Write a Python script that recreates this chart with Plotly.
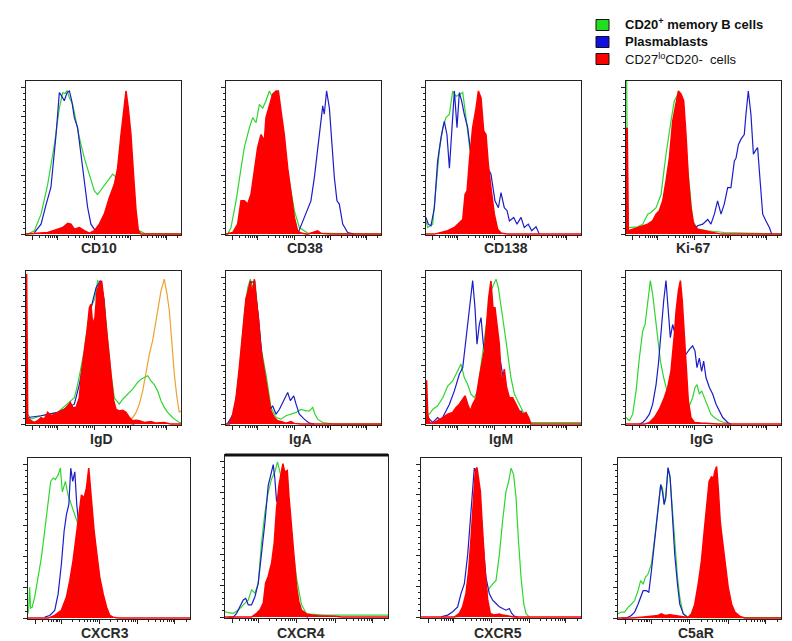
import plotly.graph_objects as go

# ---------------- tick values (display position, % of axis width) -------------
x_major_ticks = [4.5, 20.5, 44, 67.5, 90.5]
x_minor_ticks = [9, 12.5, 14.5, 16, 17.3, 18.4, 19.5,
                 27.6, 31.7, 34.6, 36.9, 38.8, 40.4, 41.7, 42.9,
                 51.1, 55.2, 58.1, 60.4, 62.3, 63.9, 65.2, 66.4,
                 74.6, 78.7, 81.6, 83.9, 85.8, 87.4, 88.7, 89.9, 97.6]
y_major_ticks = [0, 20, 40, 60, 80, 100]
y_minor_ticks = [4, 8, 12, 16, 24, 28, 32, 36, 44, 48, 52, 56,
                 64, 68, 72, 76, 84, 88, 92, 96]

markers = ["CD10", "CD38", "CD138", "Ki-67",
           "IgD", "IgA", "IgM", "IgG",
           "CXCR3", "CXCR4", "CXCR5", "C5aR"]

legend_labels = ["CD20<sup>+</sup> memory B cells", "Plasmablasts",
                 "CD27<sup>lo</sup>CD20-  cells"]

# ---------------- histogram data (x: display %, y: % of mode) -----------------
cd10_green_x = [0, 1.1, 5.4, 9.7, 14, 18.3, 21.5, 23.7, 25.2, 26.5, 28, 30.1, 32.3, 34.4, 37.6, 40.9, 44.1, 46.2, 49.5, 52.7, 55.9, 59.1, 63.4, 67.7, 72, 76.3, 100]
cd10_green_y = [0, 0, 2.3, 13.6, 34, 61, 86, 96.6, 96, 98, 93, 88.6, 77, 66, 52, 41, 29.5, 27, 32, 36, 41, 38, 30, 20, 3, 0.5, 0]
cd10_blue_x = [5.4, 9.7, 12.9, 16.1, 19.4, 21.5, 22.6, 24.7, 26.5, 28, 29.5, 31.2, 33.3, 35.5, 37.6, 39.8, 41.9, 44.5, 46.2]
cd10_blue_y = [1.1, 6.8, 20, 32, 68, 96.6, 95, 91, 96.6, 97.7, 91, 79.5, 72.7, 54.5, 36, 18, 6.8, 2.3, 0]
cd10_red_x = [0, 14, 20.4, 23.7, 26.9, 29, 31.2, 34.4, 37.6, 40.9, 44.1, 47.3, 50.5, 53.8, 57, 59.1, 61.3, 63, 64.5, 66, 67.7, 69.5, 71, 72.5, 74.2, 100]
cd10_red_y = [0, 1.1, 3.4, 4.5, 7.3, 6.8, 3.4, 4.5, 2.3, 0.7, 2.3, 6.8, 13.6, 25, 34, 45, 68, 86, 97.7, 86, 68, 38.6, 16, 2.3, 0, 0]

cd38_green_x = [0, 1.1, 3.2, 6.5, 9.7, 11.8, 15.1, 17.2, 19.4, 21.5, 23.7, 25.8, 28, 30.1, 33.3, 37.6, 41.9, 44.1, 47.3, 50.5, 52.7, 100]
cd38_green_y = [0, 0, 4.5, 22.7, 45, 59, 72.7, 79.5, 76, 88.6, 86, 91, 97.7, 93, 79.5, 57, 29.5, 16, 4.5, 2.3, 0.7, 0]
cd38_blue_x = [46.2, 48.4, 51.6, 54.8, 57, 59.1, 60.9, 62.4, 63.4, 64.9, 66.7, 68.2, 69.9, 71.6, 73.1, 75.3, 78.5, 82.8]
cd38_blue_y = [0, 5.7, 13.6, 22.7, 38.6, 59, 77, 87.5, 81.8, 97.7, 86, 63.6, 38.6, 22.7, 20.5, 6.8, 1.1, 0]
cd38_red_x = [0, 4.3, 7.5, 9.7, 11.8, 14, 16.1, 18.3, 20.4, 22.6, 24.7, 25.8, 28, 30.1, 32.3, 33.8, 35.5, 37.6, 39.8, 41.9, 44.1, 46.2, 48.4, 52.7, 57, 59.1, 61.3, 67.7, 100]
cd38_red_y = [0, 1.1, 6.8, 22.7, 22.7, 20.5, 27, 45, 59, 68, 63.6, 79.5, 88.6, 95.5, 97.7, 97.7, 84, 68, 45, 27, 11.4, 2.3, 0.7, 0, 1.8, 2.3, 0.5, 0, 0]

cd138_green_x = [0, 1.1, 4.3, 6.5, 8.6, 10.8, 12.9, 15.1, 17.2, 19.4, 21.5, 23.7, 25.8, 28, 29, 31.2, 35.5, 39.8, 44.1, 48.4]
cd138_green_y = [9, 4.5, 6.8, 34, 57, 72.7, 79.5, 81.8, 97.7, 94, 95.5, 96.6, 79.5, 61, 52, 45, 34, 18, 4.5, 0]
cd138_blue_x = [0, 1.5, 3.2, 5.4, 7.5, 9.7, 11.8, 13.5, 15.1, 16.6, 18.3, 20, 21.5, 23, 24.7, 26.9, 29, 31.2, 39.8, 41.9, 44.5, 46.7, 48.4, 50.5, 52.3, 53.8, 56.6, 58.7, 61.3, 63.4, 66, 68.2, 71, 73.1]
cd138_blue_y = [11.4, 6.8, 5.7, 18, 50, 66, 77, 68, 45, 68, 97.7, 72.7, 96.6, 91, 81.8, 72.7, 54.5, 50, 45, 41, 22.7, 18, 28.4, 18, 16, 9, 11.4, 6.8, 11.4, 4.5, 6.8, 2.3, 5, 0]
cd138_red_x = [0, 5.4, 9.7, 14, 18.3, 21.5, 23.7, 25.2, 26.5, 28, 30.1, 32.3, 33.8, 35.5, 37.2, 38.7, 40.2, 41.9, 44.1, 46.2, 48.4, 52.7, 61.3, 100]
cd138_red_y = [0, 0, 1.1, 2.3, 4.5, 8, 10, 27, 29.5, 50, 72.7, 86, 97.7, 93, 70.5, 68, 47.7, 31.8, 13.6, 3.4, 0.7, 0, 0, 0]

ki67_green_x = [0, 0.4, 1.1, 3.2, 7.5, 10.8, 14, 16.1, 19.4, 22.6, 25.8, 29, 31.2, 33.3, 36.6, 39.8, 43, 46.2, 52.7, 63.4, 74.2, 89.2, 100]
ki67_green_y = [110, 110, 4.5, 4.5, 5, 6.8, 13.6, 14.8, 18, 27, 54.5, 77, 91, 95, 90, 45, 9, 3.4, 2.3, 1.1, 0.7, 0, 0]
ki67_blue_x = [43, 46.2, 49.5, 52.7, 54.8, 57, 59.1, 61.3, 63.4, 65.6, 67.7, 69.9, 71, 72.5, 74.2, 76.3, 77.4, 78.9, 80.6, 82.2, 83.4, 84.9, 86.7, 88.2, 90.3, 92.5, 94]
ki67_blue_y = [2.3, 5.7, 6.8, 10, 6.8, 13.6, 22.7, 13.6, 20.5, 31.8, 31.8, 50, 52, 61, 64.8, 68, 81.8, 97.7, 81.8, 54.5, 56.8, 59, 34, 13.6, 9, 4.5, 0]
ki67_red_x = [0, 0.8, 1.5, 4.3, 7.5, 10.8, 14, 17.2, 19.4, 21.5, 23.7, 25.8, 28, 30.1, 32.3, 33.8, 35.5, 37.2, 38.7, 40.2, 41.9, 43.7, 46.2, 50.5, 54.8, 59.1, 61.3, 100]
ki67_red_y = [72, 72, 2.3, 3.4, 4.5, 5.7, 6.8, 9, 13.6, 16, 22.7, 36, 52, 77, 91, 97.7, 95.5, 91, 68, 38.6, 18, 6.8, 3.4, 2.3, 1.1, 0.5, 0, 0]

igd_orange_x = [0, 1.1, 3.2, 9.7, 31.2, 61.3, 66.7, 68.8, 71, 73.1, 75.3, 77.4, 79.6, 81.7, 83.2, 84.9, 87.1, 89.2, 91, 92.5, 94, 95.7, 97.4, 98.9, 100]
igd_orange_y = [4, 2.3, 1.1, 0.5, 0.5, 0.5, 2.3, 4.5, 8, 13.6, 22.7, 36, 47.7, 57, 66, 77, 91, 98.9, 88.6, 77, 54.5, 34, 18, 8, 9]
igd_green_x = [0, 1.1, 3.2, 9.7, 20.4, 29, 31.2, 33.3, 35.5, 37.6, 39.8, 41.9, 44.5, 46.2, 48.4, 50.5, 52.7, 54.8, 57, 60.2, 62.4, 65.6, 68.8, 72, 74.2, 76.3, 78.5, 80.6, 82.8, 84.9, 87.1, 89.2, 91.4, 93.5, 95.7, 98.9, 100]
igd_green_y = [8, 6.8, 3.4, 5.7, 8, 15.9, 18, 27, 38.6, 50, 68, 79.5, 86, 97.7, 96.6, 84, 57, 34, 18, 13.6, 17, 20.5, 23.9, 28.4, 30.7, 31.8, 33, 29.5, 27, 22.7, 16, 11.4, 8, 5.7, 3.4, 1.1, 1]
igd_blue_x = [1.1, 9.7, 20.4, 31.2, 34.4, 36.6, 38.7, 40.9, 43, 45.2, 48, 50.1, 52.3, 54.4, 56.6, 59.1, 63.4, 69.9]
igd_blue_y = [4.5, 5.7, 8, 13.6, 27, 41, 52, 75, 84, 93, 98, 86, 57, 32, 13.6, 4.5, 1.1, 0]
igd_red_x = [0, 0.4, 1.1, 3.2, 5.4, 7.5, 9.7, 11.8, 14, 16.1, 18.3, 20.4, 22.6, 24.7, 26.9, 28.6, 30.1, 32.3, 34.4, 35.9, 37.6, 39.4, 40.9, 41.9, 43, 44.5, 45.8, 47.3, 48.8, 50.1, 51.6, 53.3, 54.8, 56.6, 58.1, 60.2, 62.4, 64.5, 66.7, 68.8, 71, 73.1, 76.3, 80.6, 83.9, 89.2, 93.5, 100]
igd_red_y = [102, 102, 4.5, 2.3, 1.1, 2.3, 4.5, 3.4, 8, 5.7, 6.8, 8, 9, 10, 12.5, 14.8, 11.4, 11.4, 18, 36, 50, 63.6, 79.5, 81.8, 68, 72.7, 91, 95.5, 97.7, 86, 68, 50, 34, 16, 10, 9, 9.5, 8, 4.5, 2.3, 2.7, 2.3, 1.1, 1.8, 0.7, 1.1, 0, 0]

iga_green_x = [0, 1.1, 3.2, 5.4, 7.5, 9.7, 11.8, 14, 15.7, 17.2, 18.7, 20.4, 22.6, 25.8, 29, 32.3, 35.5, 38.7, 41.9, 45.2, 48.4, 51.6, 53.8, 55.9, 57.4, 59.1, 62.4, 66.7, 69.9, 100]
iga_green_y = [0, 0.5, 2.3, 9, 22.7, 47.7, 75, 93, 98.9, 93, 98, 77, 52, 34, 11.4, 4.5, 3.4, 5.7, 6.8, 8, 10, 9, 9, 11.4, 6.8, 3.4, 1.1, 0.7, 0, 0]
iga_blue_x = [1.1, 5.4, 9.7, 12.9, 15.7, 18.3, 20.9, 23.7, 26.5, 28, 30.1, 32.3, 34.4, 37.2, 39.8, 41.5, 43.7, 45.2, 47.3, 50.5, 53.8, 57]
iga_blue_y = [0.5, 8, 45, 84, 96.6, 97.3, 72.7, 40.9, 18, 9, 12.5, 6.8, 10, 16, 21.6, 16, 19.3, 13.6, 6.8, 3.4, 0.7, 0]
iga_red_x = [0, 2.2, 4.3, 6.5, 8.6, 10.8, 12.9, 14.4, 15.7, 16.8, 18.3, 19.6, 20.9, 22.6, 24.3, 25.8, 27.3, 29, 31.2, 33.3, 35.5, 38.7, 41.9, 44.1, 48.4, 100]
iga_red_y = [0, 0, 6.8, 18, 38.6, 61, 86, 91, 97.7, 88.6, 98.9, 84, 72.7, 50, 38.6, 31.8, 20.5, 9, 4.5, 2.3, 1.8, 0.7, 1.8, 0.5, 0, 0]

igm_green_x = [0, 2.2, 4.3, 7.5, 10.8, 14, 17.2, 20.4, 22.6, 24.7, 26.9, 29, 31.2, 33.3, 35.5, 37.6, 39.8, 41.9, 43.7, 45.2, 46.7, 48.4, 50.1, 51.6, 52.7, 54.8, 57, 59.1, 61.3, 63.4, 65.6, 67.7, 74.2, 100]
igm_green_y = [6.8, 6.8, 10, 12.5, 18, 26, 29.5, 36, 41, 31.8, 27, 20.5, 18, 22.7, 38.6, 57, 75, 91, 95.5, 98.9, 93, 81.8, 68, 57, 47.7, 31.8, 20.5, 15.9, 11.4, 6.8, 3.4, 1.1, 1.1, 1.1]
igm_blue_x = [1.1, 4.3, 7.5, 9.7, 11.8, 15.1, 18.3, 21.5, 23.7, 25.8, 28, 30.1, 31.6, 32.9, 34.4, 35.5, 37, 38.7, 40.9, 43, 46.2, 50.5, 54.8, 59.1, 61.3, 63.4, 65.6, 67.7]
igm_blue_y = [4.5, 1.1, 4.5, 2.3, 6.8, 13.6, 22.7, 34, 38.6, 57, 79.5, 98, 79.5, 54.5, 68, 72.7, 54.5, 45, 57, 68, 54.5, 27, 13.6, 6.8, 9, 4.5, 1.1, 0]
igm_red_x = [0, 0.4, 1.1, 2.2, 4.3, 7.5, 10.8, 14, 17.2, 19.4, 21.5, 23.7, 25.2, 26.9, 28.6, 30.1, 32.3, 34.4, 35.9, 37.6, 39.1, 40.4, 41.9, 43.2, 44.5, 45.8, 47.3, 48.8, 50.5, 52, 53.8, 55.9, 58.1, 60.2, 62.4, 64.5, 66.2, 67.7, 100]
igm_red_y = [29.5, 29.5, 6.8, 1.1, 0.5, 2.3, 4.5, 6.8, 8, 11.4, 13.6, 17, 19.3, 13.6, 9, 13.6, 18, 31.8, 41, 50, 68, 86, 97.7, 79.5, 79.5, 68, 54.5, 27, 37.5, 25, 18, 18, 13.6, 9, 6.8, 8, 4.5, 0, 0]

igg_green_x = [0, 2.2, 4.3, 6.5, 8.6, 10.8, 12.3, 14, 15.7, 17.2, 18.7, 20.4, 22.2, 24.3, 26.5, 28.6, 31.2, 34.4, 37.6, 40.9, 43, 44.5, 45.8, 47.3, 48.8, 50.5, 52.7, 54.8, 57, 60.2, 63.4, 67.7]
igg_green_y = [4.5, 2.3, 6.8, 22.7, 45, 63.6, 68, 84, 98, 88.6, 75, 61, 43, 31.8, 22.7, 13.6, 9, 6.8, 6.8, 12.5, 18, 25, 27, 20.5, 22.7, 18, 11.4, 6.8, 4.5, 2.3, 1.1, 0]
igg_blue_x = [8.6, 10.8, 12.9, 15.1, 17.2, 19.4, 20.9, 22.6, 24.3, 25.8, 27.3, 28.6, 30.1, 33.3, 36.6, 38.7, 40.9, 43, 44.5, 45.8, 47.3, 48.8, 50.1, 51.6, 53.8, 55.9, 58.1, 60.2, 62.4, 65.6, 67.7]
igg_blue_y = [0, 1.1, 3.4, 6.8, 13.6, 27, 41, 63.6, 84, 98, 77, 59, 68, 54.5, 47.7, 47.7, 51, 53.4, 50, 38.6, 45, 36, 43, 31.8, 25, 20.5, 13.6, 9, 4.5, 1.1, 0]
igg_red_x = [0, 11.8, 15.1, 18.3, 21.5, 24.7, 26.9, 29, 31.2, 32.3, 33.8, 35.1, 36.3, 37.6, 38.9, 40.2, 41.9, 44.1, 48.4, 52.7, 59.1, 100]
igg_red_y = [0, 0, 1.1, 4.5, 10, 18, 25, 36, 61, 77, 91, 98, 84, 63.6, 38.6, 16, 4.5, 1.1, 0.7, 0.5, 0, 0]

cxcr3_green_x = [0, 0.4, 1, 1.6, 2.5, 4.1, 6.2, 8.2, 10.3, 12.4, 14, 15.5, 16.9, 18.6, 20, 21.2, 23.1, 24.7, 26.8, 28.9, 30.9, 33, 37.1, 41.2, 45.4]
cxcr3_green_y = [3, 5, 20, 6.5, 7, 13.5, 26.5, 39, 56.6, 73.8, 88.8, 91, 90, 93, 97.4, 82, 88.8, 80, 73.8, 67, 61, 48, 20, 2.8, 0]
cxcr3_blue_x = [10.3, 13.4, 16.5, 18.6, 20.6, 22.3, 23.7, 25.2, 26.4, 27.6, 28.9, 30.1, 31.3, 34, 37.1, 40.2]
cxcr3_blue_y = [0.6, 1.7, 5, 15.7, 35, 56.6, 67, 73.8, 97.4, 88.8, 95, 73.8, 61, 30, 9, 0.6]
cxcr3_red_x = [0, 12.4, 16.5, 20.6, 23.7, 25.8, 27.8, 29.9, 31.3, 33, 34.6, 36.1, 37.5, 39.2, 40.8, 42.5, 44.3, 46.4, 48.5, 50.5, 52.6, 55.7, 100]
cxcr3_red_y = [0, 0, 1.7, 5, 13.5, 24.3, 37.2, 54.4, 67.3, 80, 78, 84.5, 97.4, 76, 56.6, 41.5, 26.5, 15.7, 7, 1.7, 0.6, 0, 0]

cxcr4_green_x = [0, 2, 5.1, 8.2, 11.2, 14.3, 16.3, 18.4, 20.4, 22.4, 24.5, 26.5, 28.6, 30.6, 32.2, 33.7, 36.7, 40.8, 43.9, 46.9, 50, 61.2, 81.6, 100]
cxcr4_green_y = [3.5, 2.8, 2.4, 4.5, 7.8, 11, 17.5, 15.3, 21.8, 47.7, 67, 80, 88.8, 93, 99.6, 93, 80, 50, 25, 8, 2, 1.3, 1.3, 1.3]
cxcr4_blue_x = [2, 5.1, 7.1, 9.2, 11.2, 12.7, 14.3, 16.3, 18.4, 20.4, 22.4, 24.5, 26.5, 28.2, 29.6, 30.6, 31.6, 33.1, 36.7, 40.8, 43.9, 46.9, 51]
cxcr4_blue_y = [0, 0, 2.4, 6.7, 11, 12, 7.8, 7.8, 13.2, 21.8, 41, 60.7, 84.4, 91, 97.8, 88.8, 74.7, 72.6, 52, 24, 9, 1.3, 0]
cxcr4_red_x = [0, 16.3, 19.4, 21.4, 23.5, 24.9, 26.5, 28.6, 30.2, 31.6, 33.1, 34.3, 35.5, 36.7, 38.2, 39.2, 40.8, 42.4, 43.9, 45.3, 46.9, 50, 53.1, 57.1, 67.3, 71.4, 100]
cxcr4_red_y = [0, 0, 2.4, 4.5, 8.9, 21.8, 26, 34.8, 47.7, 69.3, 84.4, 93, 98.5, 93, 94, 78, 56.4, 34.8, 19.7, 10, 4.5, 2, 1.3, 0.9, 0.6, 0, 0]

cxcr5_green_x = [20.8, 29.2, 35.4, 39.6, 43.3, 46.9, 49, 51, 53.1, 54.8, 56.3, 57.9, 59.4, 60.8, 62.5, 64.2, 65.6, 67.7]
cxcr5_green_y = [0, 1.3, 6.7, 13.2, 19.7, 24, 41, 62.8, 82, 88.8, 97.4, 93, 78, 52, 26, 8.9, 2.4, 0]
cxcr5_blue_x = [12.5, 16.7, 19.8, 22.9, 25, 27.1, 29.2, 31.3, 33.3, 35, 36.5, 38.5, 40.6, 42.7, 44.8, 46.9, 49, 51, 53.1, 55.2, 56.7, 58.3, 60.4]
cxcr5_blue_y = [0.2, 1.3, 3.5, 6.7, 15.3, 21.8, 41, 73.6, 97.4, 93, 84.4, 52, 26, 15.3, 11, 8.9, 6.7, 5.6, 4.5, 5.6, 2.4, 0.6, 0]
cxcr5_red_x = [0, 20.8, 24, 26, 28.1, 29.8, 31.3, 32.7, 34, 35, 36, 37.1, 38.5, 40, 41.7, 43.3, 45.8, 49, 51, 54.2, 58.3, 100]
cxcr5_red_y = [0, 0, 2.4, 6.7, 15.3, 30.5, 52, 78, 96.3, 97.8, 91, 82, 56.4, 30.5, 11, 2.4, 1.3, 2, 1.3, 0.6, 0, 0]

c5ar_green_x = [0, 2, 4.1, 6.1, 8.2, 10.2, 12.3, 13.9, 15.4, 16.8, 18.4, 20.5, 22.5, 24.6, 26.2, 27.3, 28.3, 29.3, 30.7, 31.8, 33.2, 34.8, 36.5, 37.9, 40, 43, 49.2, 100]
c5ar_green_y = [2.8, 3.9, 3.9, 7, 9, 11.4, 17.8, 24.3, 22, 26.5, 28.6, 35, 52, 73.8, 86.7, 84.5, 73.8, 80, 97.4, 93, 73.8, 45.8, 26.5, 13.5, 2.8, 0.6, 0.3, 0.3]
c5ar_blue_x = [2, 5.1, 8.2, 10.2, 12.3, 13.9, 15.4, 17.4, 18.9, 20.5, 22.5, 24.6, 26.2, 27.3, 28.3, 29.3, 30.7, 32, 33.2, 34.8, 36.5, 37.9, 40, 43]
c5ar_blue_y = [0, 0, 1.7, 3.9, 9, 13.5, 17.8, 17.8, 16.8, 30.7, 52, 73.8, 86.7, 82, 73.8, 78, 97.8, 91, 69.5, 41.5, 22, 9, 2.8, 0]
c5ar_red_x = [0, 8.2, 14.3, 20.5, 24.6, 26.6, 28.7, 31.8, 34.8, 38.9, 43, 45.1, 47.1, 49.2, 51.2, 52.9, 54.3, 55.9, 57.4, 58.4, 59.4, 60.5, 61.5, 62.7, 63.9, 65.6, 67.6, 69.7, 71.7, 74.8, 77.9, 100]
c5ar_red_y = [0, 0, 0.6, 1.1, 1.7, 2.8, 1.7, 2.2, 1.7, 0.6, 0.4, 2.8, 9, 22, 37.2, 56.6, 73.8, 88.8, 92, 90, 95.3, 98.5, 84.5, 63, 52, 37.2, 20, 9, 3.9, 1.1, 0, 0]

panel_curves = [
    [(cd10_green_x, cd10_green_y), (cd10_blue_x, cd10_blue_y), (cd10_red_x, cd10_red_y)],
    [(cd38_green_x, cd38_green_y), (cd38_blue_x, cd38_blue_y), (cd38_red_x, cd38_red_y)],
    [(cd138_green_x, cd138_green_y), (cd138_blue_x, cd138_blue_y), (cd138_red_x, cd138_red_y)],
    [(ki67_green_x, ki67_green_y), (ki67_blue_x, ki67_blue_y), (ki67_red_x, ki67_red_y)],
    [(igd_green_x, igd_green_y), (igd_blue_x, igd_blue_y), (igd_red_x, igd_red_y)],
    [(iga_green_x, iga_green_y), (iga_blue_x, iga_blue_y), (iga_red_x, iga_red_y)],
    [(igm_green_x, igm_green_y), (igm_blue_x, igm_blue_y), (igm_red_x, igm_red_y)],
    [(igg_green_x, igg_green_y), (igg_blue_x, igg_blue_y), (igg_red_x, igg_red_y)],
    [(cxcr3_green_x, cxcr3_green_y), (cxcr3_blue_x, cxcr3_blue_y), (cxcr3_red_x, cxcr3_red_y)],
    [(cxcr4_green_x, cxcr4_green_y), (cxcr4_blue_x, cxcr4_blue_y), (cxcr4_red_x, cxcr4_red_y)],
    [(cxcr5_green_x, cxcr5_green_y), (cxcr5_blue_x, cxcr5_blue_y), (cxcr5_red_x, cxcr5_red_y)],
    [(c5ar_green_x, c5ar_green_y), (c5ar_blue_x, c5ar_blue_y), (c5ar_red_x, c5ar_red_y)],
]

# ---------------- layout (pixel boxes in a 792x641 page) ----------------------
W, H = 792, 641
boxes = [  # left, right, top, bottom
    (18, 173, 73, 227), (218, 373, 73, 227), (418, 573, 73, 227), (618, 773, 73, 227),
    (18, 173, 263, 417), (218, 373, 263, 417), (418, 573, 263, 417), (618, 773, 263, 417),
    (20, 182, 450, 611), (217, 380, 447, 610), (413, 573, 450, 610), (610, 773, 450, 611),
]
label_pos = [(91, 240), (297, 240), (498, 240), (685, 240),
             (93, 431), (292, 431), (493, 431), (693, 431),
             (97, 625), (293, 625), (490, 625), (688, 625)]

GREEN, BLUE, RED, ORANGE = "#2fd62f", "#1c1cc8", "#ff0000", "#f0a030"
FRAME = "#222222"
FONT = "Liberation Sans, Arial, sans-serif"

fig = go.Figure()
layout = {}
for i, (l, r, t, b) in enumerate(boxes):
    n = i + 1
    xs = "" if n == 1 else str(n)
    ytop = 104.5 if i < 8 else 104.0
    layout["xaxis" + xs] = dict(
        domain=[l / W, r / W], range=[0, 100], anchor="y" + xs,
        showline=True, mirror=True, linecolor=FRAME, linewidth=1.4,
        ticks="outside", tickvals=x_major_ticks, ticklen=4, tickwidth=1,
        tickcolor=FRAME, showticklabels=False, showgrid=False, zeroline=False,
        minor=dict(tickmode="array", tickvals=x_minor_ticks, ticks="outside",
                   ticklen=2, tickwidth=1, tickcolor=FRAME, showgrid=False),
        layer="below traces", fixedrange=True)
    layout["yaxis" + xs] = dict(
        domain=[1 - b / H, 1 - t / H], range=[-0.6, ytop], anchor="x" + xs,
        showline=True, mirror=True, linecolor=FRAME, linewidth=1.4,
        ticks="outside", tickvals=y_major_ticks, ticklen=4, tickwidth=1,
        tickcolor=FRAME, showticklabels=False, showgrid=False, zeroline=False,
        minor=dict(tickmode="array", tickvals=y_minor_ticks, ticks="outside",
                   ticklen=2, tickwidth=1, tickcolor=FRAME, showgrid=False),
        layer="below traces", fixedrange=True)

    (gx, gy), (bx, by), (rx, ry) = panel_curves[i]
    ax = dict(xaxis="x" + xs, yaxis="y" + xs, showlegend=False, hoverinfo="skip")
    if markers[i] == "IgD":
        fig.add_trace(go.Scatter(x=igd_orange_x, y=igd_orange_y, mode="lines",
                                 line=dict(color=ORANGE, width=1.2), **ax))
    fig.add_trace(go.Scatter(x=gx, y=gy, mode="lines",
                             line=dict(color=GREEN, width=1.2), **ax))
    fig.add_trace(go.Scatter(x=bx, y=by, mode="lines",
                             line=dict(color=BLUE, width=1.2), **ax))
    fig.add_trace(go.Scatter(x=rx, y=ry, mode="lines", fill="tozeroy",
                             fillcolor=RED, line=dict(color=RED, width=1.5), **ax))

annotations = []
for name, (cx, cy) in zip(markers, label_pos):
    annotations.append(dict(x=cx / W, y=1 - cy / H, xref="paper", yref="paper",
                            text="<b>" + name + "</b>", showarrow=False,
                            xanchor="center", yanchor="middle",
                            font=dict(family=FONT, size=14, color="#2a2a2a")))

# legend (drawn as boxes + text)
shapes = []
leg_colors = ["#22dd22", "#1010e0", "#ff0000"]
leg_rows = [(11.5, 22.5, 16.5), (28.5, 39.5, 33.5), (45.5, 56.5, 50.5)]
for k, (txt, col, (y0, y1, yc)) in enumerate(zip(legend_labels, leg_colors, leg_rows)):
    shapes.append(dict(type="rect", xref="paper", yref="paper",
                       x0=588 / W, x1=601 / W, y0=1 - y1 / H, y1=1 - y0 / H,
                       fillcolor=col, line=dict(color="#111111", width=1)))
    annotations.append(dict(x=615 / W, y=1 - yc / H, xref="paper", yref="paper",
                            text=("<b>" + txt + "</b>") if k < 2 else txt,
                            showarrow=False, xanchor="left", yanchor="middle",
                            font=dict(family=FONT, size=13, color="#111111")))

# thicker top border of the CXCR4 panel
shapes.append(dict(type="line", xref="paper", yref="paper",
                   x0=217 / W, x1=380 / W, y0=1 - 447 / H, y1=1 - 447 / H,
                   line=dict(color="#111111", width=3)))

fig.update_layout(width=W, height=H, margin=dict(l=0, r=0, t=0, b=0),
                  paper_bgcolor="white", plot_bgcolor="white",
                  annotations=annotations, shapes=shapes, showlegend=False,
                  font=dict(family=FONT), **layout)

fig.write_html("out.html")
